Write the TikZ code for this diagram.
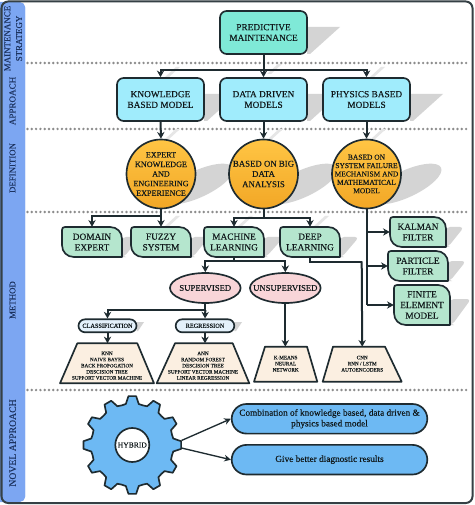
\documentclass[tikz,border=0pt]{standalone}
\usepackage{fontspec}
\setmainfont[FakeBold=0.12,AutoFakeBold=0]{Liberation Serif}
\usetikzlibrary{arrows.meta,shapes.geometric,shapes.misc}
\definecolor{ink}{HTML}{1E2B30}
\definecolor{txt}{HTML}{10181A}
\definecolor{shad}{HTML}{D4D4D4}
\definecolor{shadl}{HTML}{E6E6E6}
\definecolor{colblue}{HTML}{7CA6F2}
\definecolor{navy}{HTML}{1C3360}
\definecolor{pmfill}{HTML}{7FE9D7}
\definecolor{cyanf}{HTML}{A0ECFC}
\definecolor{orangeA}{HTML}{FFC544}
\definecolor{orangeB}{HTML}{F2A726}
\definecolor{greenf}{HTML}{B5E6CE}
\definecolor{pinkf}{HTML}{F8D5D8}
\definecolor{pillf}{HTML}{E4F1FB}
\definecolor{sandf}{HTML}{FBEFE1}
\definecolor{bluef}{HTML}{6DB9F3}
\definecolor{dotc}{HTML}{8C8C8C}
\tikzset{
  x=0.75pt,y=-0.75pt,
  shape line/.style={draw=ink,line width=1.25pt,line join=round},
  conn/.style={draw=ink,line width=1.5pt},
  arr/.style={conn,-{Stealth[length=5pt,width=5.5pt]}},
  thinarr/.style={draw=ink,line width=1pt,-{Stealth[length=5pt,width=5pt]}},
  boxbase/.style={shape line,rectangle,rounded corners=5pt,minimum width=65.25pt,minimum height=32.25pt,inner sep=0pt,align=center,text=txt,font=\fontsize{7}{8}\selectfont},
  circ/.style={shape line,circle,minimum size=51.75pt,inner sep=-6pt,align=center,text=txt,shading=axis,top color=orangeA,bottom color=orangeB},
  ell/.style={shape line,ellipse,minimum width=53pt,minimum height=22.5pt,inner xsep=-12pt,inner ysep=0pt,fill=pinkf,text=txt,font=\fontsize{6.5}{7.5}\selectfont},
  pillnode/.style={shape line,rounded rectangle,minimum height=9.75pt,inner sep=0pt,fill=pillf,text=txt,font=\fontsize{4.7}{5.5}\selectfont},
  bigpill/.style={shape line,rounded rectangle,minimum width=146.7pt,minimum height=22.2pt,inner sep=0pt,fill=bluef,align=center,text=txt,font=\fontsize{6.95}{8}\selectfont},
  side/.style={text=navy,rotate=90,align=center,inner sep=0pt},
  oval shadow/.style={ellipse,fill=shad,rotate=25,minimum width=58pt,minimum height=20pt,inner sep=0pt},
}
% rectangle-type shadow
\newcommand{\boxshade}[4]{\fill[shad] (#1,#2) -- ({#1+#4},#2) -- ({#1+3},#3) -- (#1,#3) -- cycle;}
% small slanted connector shadow
\newcommand{\slantshade}[2]{\fill[shadl] (#1,#2) -- ({#1+11},{#2-10}) -- ({#1+15},{#2-10}) -- ({#1+4},#2) -- cycle;}
% leaf-shaped box: name,x1,y1,x2,y2,text
\newcommand{\leafbox}[6]{%
  \path[shape line,fill=greenf]
   ({#2+3},#3) -- ({#4-12},#3) .. controls ({#4-5},#3) and (#4,{#3+5}) .. (#4,{#3+12})
   -- (#4,#5) -- ({#2+12},#5) .. controls ({#2+5},#5) and (#2,{#5-5}) .. (#2,{#5-12})
   -- (#2,{#3+3}) .. controls (#2,{#3+1}) and ({#2+1},#3) .. ({#2+3},#3) -- cycle;
  \node[rectangle,inner sep=0pt,minimum width={(#4-#2)*0.75pt},minimum height={(#5-#3)*0.75pt},align=center,text=txt,font=\fontsize{7}{8}\selectfont] (#1) at ({(#2+#4)/2},{(#3+#5)/2}) {#6};}
% trapezium: name,xtl,xtr,xbl,xbr,ytop,ybot,ytext,text
\newcommand{\trapbox}[9]{%
  \path[shape line,fill=sandf] (#2,#6) -- (#3,#6) -- (#5,#7) -- (#4,#7) -- cycle;
  \coordinate (#1) at ({(#4+#5)/2},#6);
  \node[inner sep=0pt,align=center,text=txt,font=\fontsize{3.9}{4.6}\selectfont] (#1 label) at ({(#4+#5)/2},#8) {#9};}
\begin{document}
\begin{tikzpicture}
\useasboundingbox (0,0) rectangle (474,505);
% frame and side column
\fill[white] (0,0) rectangle (474,505);
\fill[colblue,rounded corners=4pt] (-6,2) rectangle (25,502);
\draw[draw=ink!90!white,line width=1.5pt,rounded corners=5pt] (1.5,1.5) rectangle (472.5,503);
\fill[colblue,rounded corners=3pt] (4,3) rectangle (25,72);
\fill[colblue,rounded corners=3pt] (4,64) rectangle (25,501);
% dotted separators
\foreach \yy in {63,129,212,390}{
  \foreach \i in {0,...,102}{\fill[dotc] ({27.5+4.3*\i},\yy) circle[radius=1.35];}
}
% shadows
\boxshade{307}{27}{54}{33}
\boxshade{204}{94}{121}{33}
\boxshade{307}{94}{121}{33}
\boxshade{410}{94}{121}{33}
\node[oval shadow] (shadow one) at (198,184) {};
\node[oval shadow] (shadow two) at (302,184) {};
\node[oval shadow] (shadow three) at (406,184) {};
\slantshade{267}{74}\slantshade{165}{77}\slantshade{370}{77}
\slantshade{165}{139}\slantshade{268}{139}\slantshade{371}{139}
\slantshade{165}{226}\slantshade{238}{226}\slantshade{314}{226}
\fill[shad,rounded corners=3pt] (122,237) -- (140,237) -- (124,257) -- (122,257) -- cycle;
\fill[shad,rounded corners=3pt] (191,237) -- (209,237) -- (193,257) -- (191,257) -- cycle;
\fill[shad,rounded corners=3pt] (264,237) -- (284,237) -- (266,257) -- (264,257) -- cycle;
\fill[shad,rounded corners=3pt] (340,237) -- (359,237) -- (342,257) -- (340,257) -- cycle;
\fill[shad,rounded corners=3pt] (446,227) -- (464,227) -- (448,247) -- (446,247) -- cycle;
\fill[shad,rounded corners=3pt] (448,261) -- (466,261) -- (450,281) -- (448,281) -- cycle;
\fill[shad,rounded corners=3pt] (450,299) -- (471,299) -- (452,325) -- (450,325) -- cycle;
\fill[shad] (136.7,322) -- (144,322) -- (138,331) -- (136.7,331) -- cycle;
\fill[shad] (234.3,322) -- (242,322) -- (236,331) -- (234.3,331) -- cycle;
% top rows
\node[boxbase,fill=pmfill] (pm) at (263.5,32.5) {PREDICTIVE\\MAINTENANCE};
\node[boxbase,fill=cyanf] (kbm) at (160.5,99.5) {KNOWLEDGE\\BASED MODEL};
\node[boxbase,fill=cyanf] (ddm) at (263.5,99.5) {DATA DRIVEN\\MODELS};
\node[boxbase,fill=cyanf] (pbm) at (366.5,99.5) {PHYSICS BASED\\MODELS};
% circles
\node[circ,font=\fontsize{6.1}{7.2}\selectfont] (c one) at (161,174) {EXPERT\\KNOWLEDGE\\AND\\ENGINEERING\\EXPERIENCE};
\node[circ,font=\fontsize{6.6}{7.7}\selectfont] (c two) at (263.5,174) {BASED ON BIG\\DATA\\ANALYSIS};
\node[circ,font=\fontsize{5.6}{6.3}\selectfont] (c three) at (366.5,174) {BASED ON\\SYSTEM FAILURE\\MECHANISM AND\\MATHEMATICAL\\MODEL};
% leaf boxes
\leafbox{dom}{62}{227}{122}{257}{DOMAIN\\EXPERT}
\leafbox{fuz}{131}{227}{191}{257}{FUZZY\\SYSTEM}
\leafbox{mac}{204}{227}{264}{257}{MACHINE\\LEARNING}
\leafbox{dee}{280}{227}{340}{257}{DEEP\\LEARNING}
\leafbox{kal}{390}{217}{446}{247}{KALMAN\\FILTER}
\leafbox{par}{388}{251}{448}{281}{PARTICLE\\FILTER}
\leafbox{fin}{394}{285}{450}{325}{FINITE\\ELEMENT\\MODEL}
% ellipses and pills
\node[ell] (sup) at (205.3,288) {SUPERVISED};
\node[ell] (uns) at (285.3,288) {UNSUPERVISED};
\node[pillnode,minimum width=43.5pt] (cla) at (107.5,325.8) {CLASSIFICATION};
\node[pillnode,minimum width=44pt] (reg) at (205,325.8) {REGRESSION};
% trapezia
\trapbox{t one}{77.3}{137.3}{60}{154}{343.3}{383.3}{365.7}{KNN\\NAIVE BAYES\\BACK PROPOGATION\\DESCISION TREE\\SUPPORT VECTOR MACHINE}
\trapbox{t two}{175}{232.7}{156.7}{249.3}{343.3}{383.3}{365.7}{ANN\\RANDOM FOREST\\DESCISION TREE\\SUPPORT VECTOR MACHINE\\LINEAR REGRESSION}
\trapbox{t three}{265}{307}{254}{317.3}{346.7}{381.7}{363.7}{K-MEANS\\NEURAL\\NETWORK}
\trapbox{t four}{333}{385}{322.7}{401.7}{346.7}{381.7}{363.7}{CNN\\RNN / LSTM\\AUTOENCODERS}
% gear
\path[shape line,fill=bluef] (181,441.2)
  \foreach \a in {0,30,...,330}{
    -- ({132.3+49*cos(\a-4.5)},{445+49*sin(\a-4.5)})
    -- ({132.3+49*cos(\a+4.5)},{445+49*sin(\a+4.5)})
    -- ({132.3+41.5*cos(\a+9)},{445+41.5*sin(\a+9)})
    -- ({132.3+41*cos(\a+15)},{445+41*sin(\a+15)})
    -- ({132.3+41.5*cos(\a+21)},{445+41.5*sin(\a+21)})
  } -- cycle;
\node[shape line,circle,fill=white,minimum size=25.5pt,inner sep=-2pt,text=txt,font=\fontsize{5.7}{6.5}\selectfont] (hyb) at (132.3,445) {HYBRID};
\coordinate (gear a) at (181.5,440.5);
\coordinate (gear b) at (181.5,448);
\node[bigpill] (pa) at (329.5,418.8) {Combination of knowledge based, data driven \&\\physics based model};
\node[bigpill] (pb) at (329.5,459.7) {Give better diagnostic results};
% junctions
\coordinate (j top) at (263.5,70);
\coordinate (j one) at (161,215.7);
\coordinate (j two) at (263.5,217.7);
\coordinate (j mac) at (234,260.7);
\coordinate (j dee) at (361.7,261.5);
\coordinate (j sup) at (205.3,310);
\coordinate (j three) at (366.5,305);
% connectors
\draw[conn] (pm.south) -- (j top);
\draw[arr] (j top) -| (kbm.north);
\draw[arr] (j top) -- (ddm.north);
\draw[arr] (j top) -| (pbm.north);
\draw[arr] (kbm.south) -- (c one.north);
\draw[arr] (ddm.south) -- (c two.north);
\draw[arr] (pbm.south) -- (c three.north);
\draw[conn] (c one.south) -- (j one);
\draw[arr] (j one) -| (dom.north);
\draw[arr] (j one) -- (fuz.north);
\draw[conn] (c two.south) -- (j two);
\draw[arr] (j two) -| (mac.north);
\draw[arr] (j two) -| (dee.north);
\draw[conn] (c three.south) -- (j three);
\draw[arr] (c three.south |- kal.west) -- (kal.west);
\draw[arr] (c three.south |- par.west) -- (par.west);
\draw[arr] (j three) -- (j three -| fin.west);
\draw[conn] (mac.south) -- (j mac);
\draw[arr] (j mac) -| (sup.north);
\draw[arr] (j mac) -| (uns.north);
\draw[conn] (dee.south) |- (j dee);
\draw[arr] (j dee) -- (t four);
\draw[arr] (uns.south) -- (uns.south |- t three);
\draw[conn] (sup.south) -- (j sup);
\draw[arr] (j sup) -| (cla.north);
\draw[arr] (j sup) -- (reg.north);
\draw[arr] (cla.south) -- (cla.south |- t one);
\draw[arr] (reg.south) -- (reg.south |- t two);
\draw[thinarr] (gear a) -- (pa.west);
\draw[thinarr] (gear b) -- (pb.west);
% side labels
\node[side,font=\fontsize{6.7}{8.8}\selectfont] (lab strategy) at (13.2,38.5) {MAINTENANCE\\STRATEGY};
\node[side,font=\fontsize{6.8}{8}\selectfont] (lab approach) at (12.5,101) {APPROACH};
\node[side,font=\fontsize{6.6}{8}\selectfont] (lab definition) at (12.5,168) {DEFINITION};
\node[side,font=\fontsize{6.6}{8}\selectfont] (lab method) at (12.5,300) {METHOD};
\node[side,font=\fontsize{7.3}{8}\selectfont] (lab novel) at (12.7,443) {NOVEL APPROACH};
\end{tikzpicture}
\end{document}
